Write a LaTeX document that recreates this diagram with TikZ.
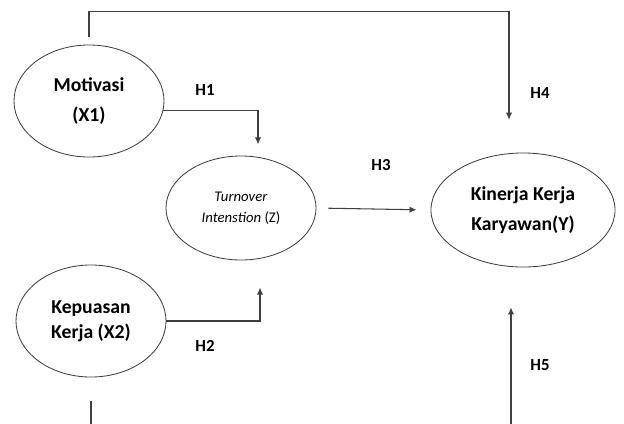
\documentclass[tikz,border=0pt]{standalone}
\usepackage{fontspec}
\setmainfont{Carlito}
\usetikzlibrary{arrows.meta,shapes.geometric}
\definecolor{linegray}{rgb}{0.25,0.25,0.25}
\begin{document}
\begin{tikzpicture}[x=0.025cm, y=-0.025cm,
  var/.style={ellipse, draw=linegray, line width=0.6pt, inner sep=0pt, align=center,
    font=\fontsize{14.000000}{21.000000}\selectfont\bfseries},
  hlab/.style={font=\fontsize{12.000000}{14.000000}\selectfont\bfseries},
  conn/.style={draw=linegray, line width=0.75pt},
  arr/.style={conn, -{Latex[length=5pt,width=4.5pt]}}]%
\useasboundingbox (0, 0) rectangle (624, 423);%
\clip (0, 0) rectangle (624, 423);%
\node[var, minimum width=3.75cm, minimum height=2.8cm] (mot) at (89, 101) {Motivasi\\(X1)};%
\node[var, minimum width=3.75cm, minimum height=2.8cm, font=\fontsize{14.000000}{18.000000}\selectfont\bfseries] (kep) at (91, 321) {Kepuasan\\Kerja (X2)};%
\node[var, minimum width=3.75cm, minimum height=2.6cm, font=\fontsize{10.500000}{15.000000}\selectfont] (turn) at (241, 208) {\textit{Turnover}\\\textit{Intenstion} (Z)};%
\node[var, minimum width=4.6cm, minimum height=2.85cm] (kin) at (523, 210) {Kinerja Kerja\\Karyawan(Y)};%
\draw[arr, shorten <=0.18cm, shorten >=0.82cm] (mot.north) -- ++(0, -33) -| ([xshift=-0.35cm]kin.north);%
\draw[arr, shorten >=0.28cm] (mot.-7) -| ([xshift=0.425cm]turn.north);%
\draw[arr, shorten >=0.68cm] (kep.east) -| ([xshift=0.475cm]turn.south);%
\draw[arr, shorten <=0.3cm, shorten >=0.35cm] (turn.east) -- (kin.west);%
\draw[arr, shorten <=0.58cm, shorten >=1.0cm] (kep.south) -- ++(0, 70) -| ([xshift=-0.3cm]kin.south);%
\node[hlab] (h1) at (205, 90) {H1};%
\node[hlab] (h2) at (205, 346) {H2};%
\node[hlab] (h3) at (381, 165) {H3};%
\node[hlab] (h4) at (540, 93) {H4};%
\node[hlab] (h5) at (540, 365) {H5};%
\end{tikzpicture}
\end{document}
